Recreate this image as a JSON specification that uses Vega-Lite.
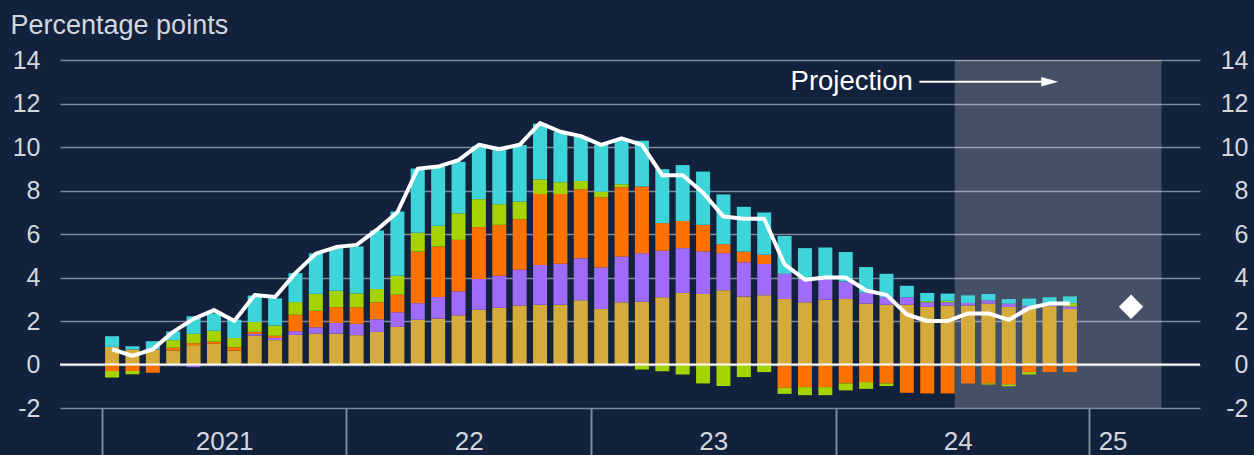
{
  "$schema": "https://vega.github.io/schema/vega-lite/v6.json",
  "width": 1140,
  "height": 348,
  "autosize": {"type": "none"},
  "padding": {"left": 60, "top": 60, "right": 54, "bottom": 47},
  "background": "#12223D",
  "config": {
    "view": {"stroke": null},
    "font": "Liberation Sans",
    "axis": {"labelColor": "#D3D7DD", "labelFont": "Liberation Sans", "labelFontSize": 25, "titleFont": "Liberation Sans"}
  },
  "datasets": {
    "cpi": [
      {"month": "2021-01", "Services": 0.81, "Core goods": 0, "Energy": -0.3, "Fuels": -0.3, "Food": 0.49, "CPI": 0.7},
      {"month": "2021-02", "Services": 0.69, "Core goods": 0, "Energy": -0.3, "Fuels": -0.15, "Food": 0.15, "CPI": 0.4},
      {"month": "2021-03", "Services": 0.69, "Core goods": -0.05, "Energy": -0.33, "Fuels": 0, "Food": 0.38, "CPI": 0.7},
      {"month": "2021-04", "Services": 0.65, "Core goods": 0, "Energy": 0.12, "Fuels": 0.35, "Food": 0.4, "CPI": 1.5},
      {"month": "2021-05", "Services": 0.89, "Core goods": -0.12, "Energy": 0.09, "Fuels": 0.43, "Food": 0.81, "CPI": 2.1},
      {"month": "2021-06", "Services": 0.95, "Core goods": 0, "Energy": 0.1, "Fuels": 0.5, "Food": 0.8, "CPI": 2.5},
      {"month": "2021-07", "Services": 0.64, "Core goods": -0.05, "Energy": 0.15, "Fuels": 0.43, "Food": 0.84, "CPI": 2.0},
      {"month": "2021-08", "Services": 1.33, "Core goods": 0.08, "Energy": 0.09, "Fuels": 0.46, "Food": 1.21, "CPI": 3.2},
      {"month": "2021-09", "Services": 1.12, "Core goods": 0.1, "Energy": 0.1, "Fuels": 0.47, "Food": 1.25, "CPI": 3.1},
      {"month": "2021-10", "Services": 1.36, "Core goods": 0.17, "Energy": 0.76, "Fuels": 0.58, "Food": 1.33, "CPI": 4.2},
      {"month": "2021-11", "Services": 1.42, "Core goods": 0.29, "Energy": 0.76, "Fuels": 0.78, "Food": 1.87, "CPI": 5.1},
      {"month": "2021-12", "Services": 1.42, "Core goods": 0.49, "Energy": 0.73, "Fuels": 0.75, "Food": 1.95, "CPI": 5.4},
      {"month": "2022-01", "Services": 1.35, "Core goods": 0.52, "Energy": 0.76, "Fuels": 0.64, "Food": 2.16, "CPI": 5.5},
      {"month": "2022-02", "Services": 1.5, "Core goods": 0.58, "Energy": 0.78, "Fuels": 0.61, "Food": 2.69, "CPI": 6.2},
      {"month": "2022-03", "Services": 1.73, "Core goods": 0.67, "Energy": 0.81, "Fuels": 0.87, "Food": 2.95, "CPI": 7.0},
      {"month": "2022-04", "Services": 2.06, "Core goods": 0.76, "Energy": 2.37, "Fuels": 0.87, "Food": 2.95, "CPI": 9.0},
      {"month": "2022-05", "Services": 2.11, "Core goods": 0.99, "Energy": 2.32, "Fuels": 0.96, "Food": 2.71, "CPI": 9.1},
      {"month": "2022-06", "Services": 2.26, "Core goods": 1.1, "Energy": 2.37, "Fuels": 1.22, "Food": 2.37, "CPI": 9.4},
      {"month": "2022-07", "Services": 2.52, "Core goods": 1.41, "Energy": 2.39, "Fuels": 1.28, "Food": 2.45, "CPI": 10.1},
      {"month": "2022-08", "Services": 2.61, "Core goods": 1.47, "Energy": 2.34, "Fuels": 0.95, "Food": 2.49, "CPI": 9.9},
      {"month": "2022-09", "Services": 2.71, "Core goods": 1.65, "Energy": 2.32, "Fuels": 0.81, "Food": 2.6, "CPI": 10.1},
      {"month": "2022-10", "Services": 2.75, "Core goods": 1.83, "Energy": 3.26, "Fuels": 0.67, "Food": 2.57, "CPI": 11.1},
      {"month": "2022-11", "Services": 2.75, "Core goods": 1.88, "Energy": 3.21, "Fuels": 0.54, "Food": 2.32, "CPI": 10.7},
      {"month": "2022-12", "Services": 2.95, "Core goods": 1.93, "Energy": 3.18, "Fuels": 0.38, "Food": 2.03, "CPI": 10.5},
      {"month": "2023-01", "Services": 2.55, "Core goods": 1.91, "Energy": 3.23, "Fuels": 0.26, "Food": 2.14, "CPI": 10.1},
      {"month": "2023-02", "Services": 2.86, "Core goods": 2.11, "Energy": 3.18, "Fuels": 0.14, "Food": 2.03, "CPI": 10.4},
      {"month": "2023-03", "Services": 2.89, "Core goods": 2.23, "Energy": 3.06, "Fuels": -0.23, "Food": 2.11, "CPI": 10.1},
      {"month": "2023-04", "Services": 3.09, "Core goods": 2.14, "Energy": 1.27, "Fuels": -0.31, "Food": 2.48, "CPI": 8.7},
      {"month": "2023-05", "Services": 3.29, "Core goods": 2.06, "Energy": 1.25, "Fuels": -0.46, "Food": 2.57, "CPI": 8.7},
      {"month": "2023-06", "Services": 3.24, "Core goods": 1.96, "Energy": 1.22, "Fuels": -0.87, "Food": 2.45, "CPI": 7.9},
      {"month": "2023-07", "Services": 3.41, "Core goods": 1.71, "Energy": 0.41, "Fuels": -0.99, "Food": 2.29, "CPI": 6.8},
      {"month": "2023-08", "Services": 3.13, "Core goods": 1.57, "Energy": 0.49, "Fuels": -0.58, "Food": 2.06, "CPI": 6.7},
      {"month": "2023-09", "Services": 3.18, "Core goods": 1.44, "Energy": 0.43, "Fuels": -0.35, "Food": 1.94, "CPI": 6.7},
      {"month": "2023-10", "Services": 3.01, "Core goods": 1.16, "Energy": -1.07, "Fuels": -0.28, "Food": 1.74, "CPI": 4.6},
      {"month": "2023-11", "Services": 2.86, "Core goods": 1.07, "Energy": -1.04, "Fuels": -0.37, "Food": 1.42, "CPI": 3.9},
      {"month": "2023-12", "Services": 2.98, "Core goods": 0.95, "Energy": -1.04, "Fuels": -0.37, "Food": 1.45, "CPI": 4.0},
      {"month": "2024-01", "Services": 3.01, "Core goods": 0.81, "Energy": -0.87, "Fuels": -0.32, "Food": 1.35, "CPI": 4.0},
      {"month": "2024-02", "Services": 2.8, "Core goods": 0.5, "Energy": -0.81, "Fuels": -0.31, "Food": 1.18, "CPI": 3.4},
      {"month": "2024-03", "Services": 2.75, "Core goods": 0.35, "Energy": -0.87, "Fuels": -0.12, "Food": 1.07, "CPI": 3.2},
      {"month": "2024-04", "Services": 2.75, "Core goods": 0.34, "Energy": -1.3, "Fuels": 0, "Food": 0.53, "CPI": 2.3},
      {"month": "2024-05", "Services": 2.65, "Core goods": 0.21, "Energy": -1.33, "Fuels": 0.05, "Food": 0.38, "CPI": 2.0},
      {"month": "2024-06", "Services": 2.71, "Core goods": 0.15, "Energy": -1.33, "Fuels": 0.07, "Food": 0.33, "CPI": 2.0},
      {"month": "2024-07", "Services": 2.71, "Core goods": 0.12, "Energy": -0.87, "Fuels": 0, "Food": 0.35, "CPI": 2.35},
      {"month": "2024-08", "Services": 2.8, "Core goods": 0.15, "Energy": -0.87, "Fuels": -0.05, "Food": 0.29, "CPI": 2.35},
      {"month": "2024-09", "Services": 2.65, "Core goods": 0.15, "Energy": -0.92, "Fuels": -0.08, "Food": 0.21, "CPI": 2.05},
      {"month": "2024-10", "Services": 2.6, "Core goods": 0.1, "Energy": -0.35, "Fuels": -0.11, "Food": 0.33, "CPI": 2.6},
      {"month": "2024-11", "Services": 2.68, "Core goods": 0.1, "Energy": -0.35, "Fuels": 0.05, "Food": 0.26, "CPI": 2.8},
      {"month": "2024-12", "Services": 2.55, "Core goods": 0.12, "Energy": -0.35, "Fuels": 0.15, "Food": 0.31, "CPI": 2.8}
    ]
  },
  "resolve": {"axis": {"x": "independent", "y": "independent"}},
  "layer": [
    {
      "data": {"values": [{"start": 2024.4875, "end": 2025.333}]},
      "mark": {"type": "rect", "fill": "#FFFFFF", "opacity": 0.21},
      "encoding": {
        "x": {"field": "start", "type": "quantitative", "scale": {"domain": [2020.8492, 2025.4699], "nice": false, "zero": false}, "axis": null},
        "x2": {"field": "end"},
        "y": {"datum": -2, "type": "quantitative", "scale": {"domain": [-2, 14], "nice": false, "zero": false}, "axis": null},
        "y2": {"datum": 14}
      }
    },
    {
      "data": {"name": "cpi"},
      "transform": [
        {"fold": ["Services", "Core goods", "Energy", "Fuels", "Food"], "as": ["component", "value"]},
        {"calculate": "utcyear(toDate(datum.month)) + (utcmonth(toDate(datum.month)) + 0.5) / 12", "as": "t"},
        {"calculate": "indexof(['Services', 'Core goods', 'Energy', 'Fuels', 'Food'], datum.component)", "as": "rank"}
      ],
      "mark": {"type": "bar", "size": 14},
      "encoding": {
        "x": {
          "field": "t", "type": "quantitative", "title": null,
          "axis": {"orient": "bottom", "values": [2021, 2022, 2023, 2024, 2025.036], "labels": false, "ticks": true, "tickSize": 47, "tickWidth": 2, "tickColor": "#7D8898", "domain": false, "grid": false}
        },
        "y": {
          "field": "value", "type": "quantitative", "stack": "zero",
          "axis": {
            "orient": "left", "values": [-2, 0, 2, 4, 6, 8, 10, 12, 14], "grid": true, "gridColor": "#7D8898", "gridWidth": 1.5,
            "ticks": false, "domain": false, "labelPadding": 20, "labelAlign": "right", "labelBaseline": "middle",
            "labelExpr": "'' + datum.value",
            "title": "Percentage points", "titleAngle": 0, "titleX": -50, "titleY": -27, "titleAlign": "left", "titleBaseline": "alphabetic",
            "titleFontSize": 27, "titleFontWeight": "normal", "titleColor": "#D3D7DD"
          }
        },
        "color": {
          "field": "component", "type": "nominal", "legend": null,
          "scale": {"domain": ["Services", "Core goods", "Energy", "Fuels", "Food"], "range": ["#D5AB3B", "#A06BF8", "#FF7200", "#A5D300", "#3DD5D9"]}
        },
        "order": {"field": "rank", "type": "quantitative"}
      }
    },
    {
      "data": {"values": [{}]},
      "mark": {"type": "rule", "color": "#FFFFFF", "strokeWidth": 2},
      "encoding": {"y": {"datum": 0, "type": "quantitative", "axis": null}}
    },
    {
      "data": {"name": "cpi"},
      "transform": [
        {"calculate": "utcyear(toDate(datum.month)) + (utcmonth(toDate(datum.month)) + 0.5) / 12", "as": "t"}
      ],
      "mark": {"type": "line", "color": "#FFFFFF", "strokeWidth": 4, "strokeJoin": "round"},
      "encoding": {
        "x": {
          "field": "t", "type": "quantitative", "title": null,
          "axis": {"orient": "bottom", "values": [2021.5, 2022.5, 2023.5, 2024.5, 2025.133], "ticks": false, "domain": false, "grid": false,
                   "labelPadding": 41, "labelFontSize": 26, "labelBaseline": "alphabetic", "labelAlign": "center", "labelFlush": false, "labelOverlap": false, "labelBound": false,
                   "labelExpr": "floor(datum.value) == 2021 ? '2021' : substring('' + floor(datum.value), 2)"}
        },
        "y": {
          "field": "CPI", "type": "quantitative", "title": null,
          "axis": {"orient": "right", "values": [-2, 0, 2, 4, 6, 8, 10, 12, 14], "grid": false, "ticks": false, "domain": false,
                   "labelPadding": 48, "labelAlign": "right", "labelBaseline": "middle", "labelExpr": "'' + datum.value"}
        }
      }
    },
    {
      "data": {"values": [{"month": "2025-03", "CPI": 2.65}]},
      "transform": [
        {"calculate": "utcyear(toDate(datum.month)) + (utcmonth(toDate(datum.month)) + 0.5) / 12", "as": "t"}
      ],
      "mark": {"type": "point", "shape": "diamond", "filled": true, "color": "#FFFFFF", "size": 600, "opacity": 1},
      "encoding": {
        "x": {"field": "t", "type": "quantitative", "axis": null},
        "y": {"field": "CPI", "type": "quantitative", "axis": null}
      }
    },
    {
      "data": {"values": [{"t": 2023.816, "v": 12.62, "label": "Projection"}]},
      "mark": {"type": "text", "align": "left", "baseline": "alphabetic", "fontSize": 27.5, "color": "#FFFFFF", "font": "Liberation Sans"},
      "encoding": {
        "x": {"field": "t", "type": "quantitative", "axis": null},
        "y": {"field": "v", "type": "quantitative", "axis": null},
        "text": {"field": "label"}
      }
    },
    {
      "data": {"values": [{"t": 2024.343, "t2": 2024.845, "v": 13.0}]},
      "mark": {"type": "rule", "color": "#FFFFFF", "strokeWidth": 2},
      "encoding": {
        "x": {"field": "t", "type": "quantitative", "axis": null},
        "x2": {"field": "t2"},
        "y": {"field": "v", "type": "quantitative", "axis": null}
      }
    },
    {
      "data": {"values": [{"t": 2024.876, "v": 13.0}]},
      "mark": {"type": "point", "shape": "M -1 -0.55 L 1 0 L -1 0.55 Z", "filled": true, "color": "#FFFFFF", "size": 289, "opacity": 1},
      "encoding": {
        "x": {"field": "t", "type": "quantitative", "axis": null},
        "y": {"field": "v", "type": "quantitative", "axis": null}
      }
    }
  ]
}
